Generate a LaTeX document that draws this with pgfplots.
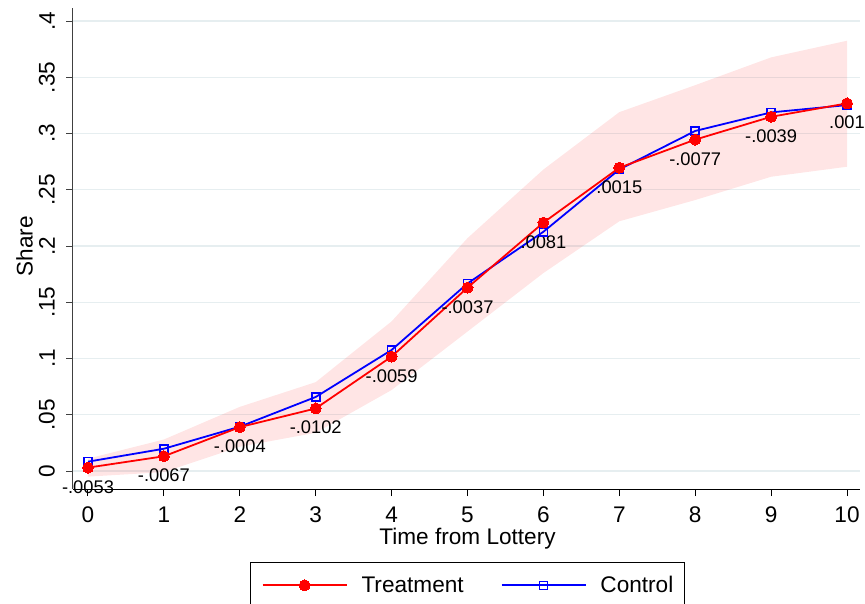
\documentclass[border=0pt]{standalone}
\usepackage{fontspec}
\setmainfont{Liberation Sans}
\usepackage{pgfplots}
\pgfplotsset{compat=1.18}
\definecolor{gridc}{HTML}{E6EEF0}
\begin{document}
\begin{tikzpicture}
\begin{axis}[
  at={(0,0)}, anchor=south west,
  scale only axis, width=787pt, height=481pt,
  xmin=-0.1976, xmax=10.171, ymin=-0.016, ymax=0.4116,
  axis x line*=bottom, axis y line*=left,
  x axis line style={black, line width=1pt},
  y axis line style={black!75, line width=1pt},
  xtick={0,1,2,3,4,5,6,7,8,9,10},
  ytick={0,0.05,0.1,0.15,0.2,0.25,0.3,0.35,0.4},
  yticklabels={0,.05,.1,.15,.2,.25,.3,.35,.4},
  tick align=outside, major tick length=7pt,
  x tick style={black, line width=1pt},
  y tick style={black!75, line width=1pt},
  ymajorgrids, grid style={gridc, line width=1.3pt},
  font=\fontsize{22.6}{27}\selectfont,
  /pgf/number format/assume math mode=true,
  xticklabel style={anchor=north, inner sep=0pt, yshift=-11pt},
  yticklabel style={xshift=-11pt, rotate=90, anchor=south, inner sep=0pt},
  xlabel={Time from Lottery},
  xlabel style={at={(axis description cs:0.5013,-0.1145)}, anchor=base, inner sep=0pt},
  ylabel={Share},
  ylabel style={at={(axis description cs:-0.0508,0.505)}, anchor=south, inner sep=0pt},
  clip=false,
  legend columns=2,
  legend style={at={(axis description cs:0.5013,-0.15177)}, anchor=north,
    draw=black, line width=0.8pt, inner xsep=11.5pt, inner ysep=14pt,
    font=\fontsize{22.6}{27}\selectfont,
    nodes={inner sep=0pt},
    /tikz/every odd column/.append style={column sep=14pt},
    /tikz/every even column/.append style={column sep=37pt}},
  legend image code/.code={\draw[#1, mark repeat=2, mark phase=2] plot coordinates {(0pt,0pt)(42pt,0pt)(84pt,0pt)};},
]
% confidence band
\addplot[fill=red, fill opacity=0.1, draw=none, forget plot] coordinates {
 (0,0.011) (1,0.028) (2,0.057) (3,0.079) (4,0.133) (5,0.207) (6,0.268) (7,0.319) (8,0.343) (9,0.3677) (10,0.3825)
 (10,0.2705) (9,0.2616) (8,0.2409) (7,0.222) (6,0.176) (5,0.124) (4,0.072) (3,0.034) (2,0.0216) (1,-0.001) (0,-0.005)
} -- cycle;
% difference labels
\addplot[draw=none, mark=none, forget plot, nodes near coords, point meta=explicit symbolic,
  every node near coord/.style={anchor=north, inner sep=0pt, yshift=-12.5pt, black, font=\fontsize{18.3}{22}\selectfont}]
 table[meta=lab] {
x y lab
0 0.0030 -.0053
1 0.0131 -.0067
2 0.0390 -.0004
3 0.0556 -.0102
4 0.1017 -.0059
5 0.1630 -.0037
6 0.2208 .0081
7 0.2696 .0015
8 0.2946 -.0077
9 0.3149 -.0039
10 0.3268 .001
};
% control
\addplot[blue, line width=1.8pt, mark=square, mark size=4pt, mark options={solid, fill=white, line width=1.6pt}, forget plot] coordinates {
 (0,0.0083) (1,0.0198) (2,0.0394) (3,0.0658) (4,0.1076) (5,0.1667) (6,0.2127) (7,0.2681) (8,0.3023) (9,0.3188) (10,0.3253)
};
% treatment
\addplot[red, line width=1.8pt, mark=*, mark size=5.5pt, mark options={solid, fill=red, draw=red, line width=0pt}, forget plot] coordinates {
 (0,0.0030) (1,0.0131) (2,0.0390) (3,0.0556) (4,0.1017) (5,0.1630) (6,0.2208) (7,0.2696) (8,0.2946) (9,0.3149) (10,0.3268)
};
\addlegendimage{red, line width=1.8pt, mark=*, mark size=5.5pt, mark options={solid, fill=red, draw=red, line width=0pt}}
\addlegendentry{Treatment}
\addlegendimage{blue, line width=1.8pt, mark=square, mark size=4pt, mark options={solid, fill=white, line width=1.6pt}}
\addlegendentry{Control}
\end{axis}
\pgfresetboundingbox
\path[use as bounding box] (-73pt,-114pt) rectangle (792pt,489pt);
\end{tikzpicture}
\end{document}
